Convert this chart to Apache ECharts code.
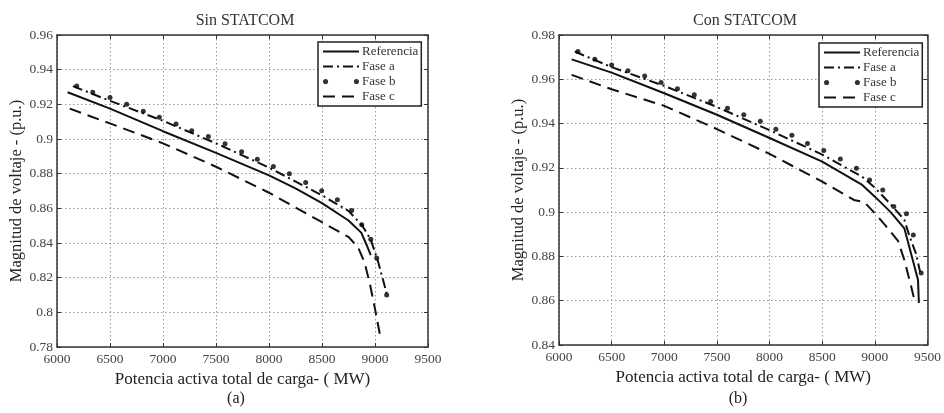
<!DOCTYPE html>
<html><head><meta charset="utf-8">
<script src="https://cdn.jsdelivr.net/npm/echarts@6/dist/echarts.min.js"></script>
<style>html,body{margin:0;padding:0;background:#fff}#c{width:944px;height:413px}</style>
</head><body><div id="c"></div><script>
// ---- Data ----
const seriesNames = ['Referencia', 'Fase a', 'Fase b', 'Fase c'];
const titles = ['Sin STATCOM', 'Con STATCOM'];
const subLabels = ['(a)', '(b)'];
const xName = 'Potencia activa total de carga- ( MW)';
const yName = 'Magnitud de voltaje - (p.u.)';
const xRange = [6000, 9500, 500];
const yRangeA = [0.78, 0.96, 0.02];
const yRangeB = [0.84, 0.98, 0.02];

// (a) Sin STATCOM
const refA = [[6100,0.927],[6500,0.9175],[7000,0.9045],[7500,0.892],[8000,0.879],[8250,0.8715],[8500,0.863],[8750,0.853],[8870,0.846],[8920,0.839],[8960,0.833]];
const faseAA = [[6150,0.9305],[6500,0.922],[7000,0.9105],[7500,0.8975],[8000,0.8835],[8500,0.8675],[8750,0.8585],[8880,0.850],[8960,0.842],[9030,0.829],[9110,0.811]];
const faseBA = [[6186,0.9306],[6337,0.927],[6500,0.924],[6657,0.920],[6814,0.916],[6965,0.9126],[7123,0.9087],[7271,0.9048],[7428,0.9014],[7585,0.8972],[7742,0.8927],[7890,0.8883],[8041,0.8841],[8192,0.8799],[8346,0.8749],[8497,0.8701],[8645,0.8649],[8780,0.8587],[8875,0.8505],[8960,0.8422],[9016,0.8313],[9110,0.810]];
const faseCA = [[6120,0.9175],[6500,0.909],[7000,0.8975],[7500,0.884],[8000,0.869],[8500,0.852],[8750,0.8435],[8840,0.8375],[8900,0.829],[8950,0.817],[9000,0.802],[9050,0.786]];

// (b) Con STATCOM
const refB = [[6120,0.969],[6500,0.963],[7000,0.9537],[7500,0.944],[8000,0.9335],[8500,0.9228],[8880,0.9123],[9000,0.907],[9150,0.900],[9280,0.8927],[9360,0.8784],[9410,0.8694],[9418,0.859]];
const faseAB = [[6150,0.9725],[6500,0.9655],[7000,0.957],[7500,0.9475],[8000,0.937],[8500,0.926],[8880,0.916],[9000,0.911],[9150,0.9035],[9280,0.8965],[9330,0.889],[9390,0.8814],[9430,0.873]];
const faseBB = [[6180,0.9725],[6340,0.969],[6500,0.9665],[6655,0.9638],[6814,0.9615],[6970,0.9585],[7125,0.9557],[7285,0.953],[7440,0.950],[7600,0.9469],[7755,0.944],[7912,0.941],[8060,0.9374],[8212,0.9347],[8360,0.931],[8515,0.9278],[8672,0.924],[8825,0.9198],[8950,0.9145],[9075,0.910],[9180,0.9025],[9300,0.8993],[9365,0.8897],[9440,0.8725]];
const faseCB = [[6120,0.962],[6500,0.9555],[7000,0.948],[7500,0.9375],[8000,0.9263],[8500,0.9138],[8800,0.9055],[8900,0.9045],[9000,0.8995],[9100,0.894],[9220,0.887],[9280,0.8784],[9345,0.8664],[9375,0.8604]];

// ---- Chart ----
const FONT = '"Liberation Serif", "DejaVu Serif", serif';
const fmtY = v => String(+(+v).toFixed(2));
const fmtX = v => String(Math.round(v));

const grids = [
  {left: 57, top: 35, width: 371, height: 312},
  {left: 559, top: 35, width: 371, height: 310}
];
const yRanges = [yRangeA, yRangeB];

const xAxes = [], yAxes = [];
grids.forEach((g, i) => {
  xAxes.push({
    type: 'value', gridIndex: i, min: xRange[0], max: xRange[1], interval: xRange[2], position: 'bottom',
    name: xName, nameLocation: 'middle', nameGap: 21,
    nameTextStyle: {fontFamily: FONT, fontSize: 17, color: '#222'},
    axisLine: {show: true, lineStyle: {color: '#333', width: 1.5}},
    axisTick: {show: true, inside: true, length: 4, lineStyle: {color: '#333'}},
    axisLabel: {fontFamily: FONT, fontSize: 13.5, color: '#444', margin: 5, formatter: fmtX},
    splitLine: {show: true, lineStyle: {type: [1.5, 2.5], color: '#999', width: 1}}
  });
  xAxes.push({
    type: 'value', gridIndex: i, min: xRange[0], max: xRange[1], interval: xRange[2], position: 'top',
    axisLine: {show: true, lineStyle: {color: '#333', width: 1.5}},
    axisTick: {show: true, inside: true, length: 4, lineStyle: {color: '#333'}},
    axisLabel: {show: false}, splitLine: {show: false}
  });
  const yr = yRanges[i];
  yAxes.push({
    type: 'value', gridIndex: i, min: yr[0], max: yr[1], interval: yr[2], position: 'left',
    name: yName, nameLocation: 'middle', nameGap: i === 0 ? 28 : 30,
    nameTextStyle: {fontFamily: FONT, fontSize: 16.5, color: '#222'},
    axisLine: {show: true, lineStyle: {color: '#333', width: 1.5}},
    axisTick: {show: true, inside: true, length: 4, lineStyle: {color: '#333'}},
    axisLabel: {fontFamily: FONT, fontSize: 13.5, color: '#444', margin: 4, formatter: fmtY},
    splitLine: {show: true, lineStyle: {type: [1.5, 2.5], color: '#999', width: 1}}
  });
  yAxes.push({
    type: 'value', gridIndex: i, min: yr[0], max: yr[1], interval: yr[2], position: 'right',
    axisLine: {show: true, lineStyle: {color: '#333', width: 1.5}},
    axisTick: {show: true, inside: true, length: 4, lineStyle: {color: '#333'}},
    axisLabel: {show: false}, splitLine: {show: false}
  });
});

const styles = {
  'Referencia': {type: 'solid', width: 2},
  'Fase a': {type: [10, 4, 2, 4], width: 2},
  'Fase c': {type: [12, 7], width: 2}
};
const data = [
  {'Referencia': refA, 'Fase a': faseAA, 'Fase b': faseBA, 'Fase c': faseCA},
  {'Referencia': refB, 'Fase a': faseAB, 'Fase b': faseBB, 'Fase c': faseCB}
];
const series = [];
data.forEach((d, i) => {
  seriesNames.forEach(n => {
    const ax = {xAxisIndex: i * 2, yAxisIndex: i * 2};
    if (n === 'Fase b') {
      series.push(Object.assign({name: n, type: 'scatter', data: d[n], symbol: 'circle', symbolSize: 5,
        itemStyle: {color: '#000'}, z: 3, silent: true}, ax));
    } else {
      series.push(Object.assign({name: n, type: 'line', data: d[n], symbol: 'none', showSymbol: false,
        lineStyle: Object.assign({color: '#111'}, styles[n]), itemStyle: {color: '#111'}, silent: true, z: 2}, ax));
    }
  });
});

const dotsIcon = 'path://M0 2a2 2 0 1 0 4 0a2 2 0 1 0 -4 0M24 2a2 2 0 1 0 4 0a2 2 0 1 0 -4 0';
const hidden = {color: 'rgba(0,0,0,0)', borderColor: 'rgba(0,0,0,0)', borderWidth: 0, opacity: 0};
const legendData = seriesNames.map(n => n === 'Fase b'
  ? {name: n, icon: dotsIcon, itemStyle: {color: '#000'}}
  : {name: n, itemStyle: hidden});
const legendBase = {
  orient: 'vertical', data: legendData, itemWidth: 36, itemHeight: 14, itemGap: 2,
  padding: [3, 3, 3, 4], borderColor: '#222', borderWidth: 1.5, backgroundColor: '#fff',
  textStyle: {fontFamily: FONT, fontSize: 13, color: '#333', padding: [0, 0, 0, -2]},
  selectedMode: false, symbolKeepAspect: true
};

const option = {
  backgroundColor: '#fff',
  animation: false,
  grid: grids,
  xAxis: xAxes,
  yAxis: yAxes,
  series: series,
  legend: [
    Object.assign({left: 318, top: 42}, legendBase),
    Object.assign({left: 819, top: 43}, legendBase)
  ],
  graphic: [
    {type: 'text', x: 245, y: 21, style: {text: titles[0], font: '16px ' + FONT, fill: '#333', textAlign: 'center', textVerticalAlign: 'middle'}},
    {type: 'text', x: 745, y: 21, style: {text: titles[1], font: '16px ' + FONT, fill: '#333', textAlign: 'center', textVerticalAlign: 'middle'}},
    {type: 'text', x: 236, y: 399, style: {text: subLabels[0], font: '16px ' + FONT, fill: '#222', textAlign: 'center', textVerticalAlign: 'middle'}},
    {type: 'text', x: 738, y: 399, style: {text: subLabels[1], font: '16px ' + FONT, fill: '#222', textAlign: 'center', textVerticalAlign: 'middle'}}
  ]
};
const chart = echarts.init(document.getElementById('c'), null, {renderer: 'canvas'});
chart.setOption(option);
</script></body></html>
